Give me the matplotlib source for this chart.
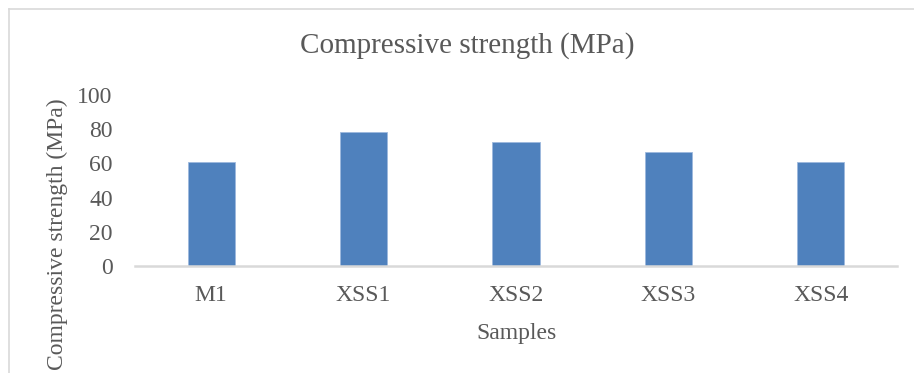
import matplotlib.pyplot as plt
from matplotlib.lines import Line2D

samples = ['M1', 'XSS1', 'XSS2', 'XSS3', 'XSS4']
strength = [60.6, 78.2, 72.3, 66.8, 61.0]
yticks = [0, 20, 40, 60, 80, 100]

plt.rcParams['font.family'] = 'Liberation Serif'
grey = '#595959'

fig = plt.figure(figsize=(9.14, 3.73), dpi=100)
ax = fig.add_axes([135 / 914, 1 - 266 / 373, 762 / 914, 171 / 373])

x = range(len(samples))
ax.bar(x, strength, width=0.31, color='#4F81BD', edgecolor='#9DB9DD', linewidth=0.6)

ax.set_xlim(-0.5, len(samples) - 0.5)
ax.set_ylim(0, 100)
ax.set_yticks(yticks)
ax.set_xticks(list(x))
ax.set_xticklabels(samples)
ax.tick_params(length=0, labelsize=17, colors=grey)
ax.tick_params(axis='x', pad=14)
ax.tick_params(axis='y', pad=16)

for s in ['top', 'right', 'left']:
    ax.spines[s].set_visible(False)
ax.spines['bottom'].set_color('#D9D9D9')
ax.spines['bottom'].set_linewidth(1.8)

fig.text(467 / 914, 1 - 46 / 373, 'Compressive strength (MPa)', fontsize=21,
         color=grey, ha='center', va='center')
fig.text(516 / 914, 1 - 334 / 373, 'Samples', fontsize=17, color=grey,
         ha='center', va='center')
fig.text(57 / 914, 1 - 98 / 373, 'Compressive strength (MPa)', fontsize=17,
         color=grey, rotation=90, ha='center', va='top')

# chart frame (left and top edges visible in the crop)
fig.add_artist(Line2D([9 / 914, 9 / 914], [0, 1 - 9 / 373], color='#D9D9D9', lw=1.2))
fig.add_artist(Line2D([9 / 914, 1], [1 - 9 / 373, 1 - 9 / 373], color='#D9D9D9', lw=1.2))

fig.savefig('out.png', dpi=100)
